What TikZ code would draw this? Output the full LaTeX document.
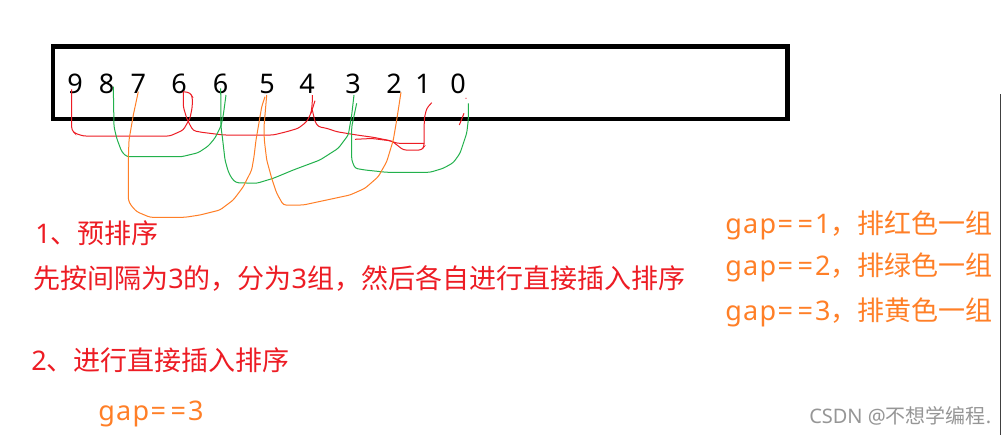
\documentclass[tikz,border=0pt]{standalone}
\usepackage{fontspec}
\setmainfont{Noto Sans}
\newfontfamily\cjk{Noto Sans CJK SC}
\newcommand\gapeq[1]{g\kern1pt a\kern1pt p\kern1pt=\kern3.5pt=\kern1.5pt #1}
\definecolor{pred}{RGB}{237,28,36}
\definecolor{porange}{RGB}{255,127,39}
\definecolor{pgreen}{RGB}{34,177,76}
\definecolor{wmgray}{RGB}{150,150,150}
\tikzset{
  digit/.style={anchor=base,inner sep=0pt,font=\fontsize{20.25pt}{22pt}\selectfont},
  txt/.style={anchor=base west,inner sep=0pt,font=\fontsize{20.25pt}{22pt}\selectfont},
  redtxt/.style={txt,text=pred},
  orangetxt/.style={txt,text=porange},
  wm/.style={anchor=base west,inner sep=0pt,text=wmgray,font=\fontsize{15pt}{17pt}\selectfont},
  rline/.style={draw=pred,line width=0.75pt,rounded corners=2pt},
  gline/.style={draw=pgreen,line width=0.75pt,rounded corners=2pt},
  oline/.style={draw=porange,line width=0.75pt,rounded corners=2pt},
  arraybox/.style={draw=black,line width=3.4pt}
}
\begin{document}
\begin{tikzpicture}[x=0.75pt,y=-0.75pt]
\useasboundingbox (0,0) rectangle (1002,435);
\fill[white] (0,0) rectangle (1002,435);
% array box
\node[arraybox,minimum width=734.5*0.75pt,minimum height=72*0.75pt,anchor=north west,inner sep=0pt] (box) at (50.5,44.5) {};
% digits
\node[digit] (d9) at (75,93.3) {9};
\node[digit] (d8) at (106.7,93.3) {8};
\node[digit] (d7) at (138.3,93.3) {7};
\node[digit] (d6a) at (179,93.3) {6};
\node[digit] (d6b) at (220.7,93.3) {6};
\node[digit] (d5) at (267,93.3) {5};
\node[digit] (d4) at (307,93.3) {4};
\node[digit] (d3) at (353,93.3) {3};
\node[digit] (d2) at (394,93.3) {2};
\node[digit] (d1) at (423,93.3) {1};
\node[digit] (d0) at (458,93.3) {0};
% end points of the hand-drawn links
\coordinate (r9) at (71.7,89.3);
\coordinate (r6) at (183.3,91.7);
\coordinate (r4) at (312.3,95);
\coordinate (r4b) at (312.3,110);
\coordinate (r1) at (431.7,102.7);
\coordinate (g8) at (113.3,86.7);
\coordinate (g6a) at (226,95);
\coordinate (g6b) at (220.7,88.3);
\coordinate (g3a) at (354,95);
\coordinate (g3b) at (356.7,103.3);
\coordinate (g0) at (468.3,103.3);
\coordinate (o7) at (138.3,91.7);
\coordinate (o5a) at (265,96.7);
\coordinate (o5b) at (266.7,95);
\coordinate (o2) at (401,92.3);
% red links
\draw[rline] (r9) -- (71.7,130) -- (75,133.3) -- (83.3,136) -- (170,136) -- (183.3,130) -- (190,118.3) -- (192.3,106.7) -- (192.3,96.7) -- (190,92.7) -- (r6);
\draw[rline] (r6) -- (183.3,106.7) -- (186.7,118.3) -- (190,125) -- (193.3,130.7) -- (201.7,132.3) -- (223.3,135) -- (273.3,135) -- (286.7,131.7) -- (298.3,128.3) -- (306.7,121.7) -- (311,113.3) -- (312.3,103.3) -- (r4);
\draw[rline] (311,113.3) -- (315,100.7);
\draw[rline] (r4b) -- (315,121.7) -- (318.3,126.7) -- (326.7,128.3) -- (336.7,131.7) -- (356.7,135) -- (373.3,137.3) -- (391.7,141) -- (398.3,146) -- (403.3,150) -- (421.7,150) -- (424,146.7) -- (424.3,118.3) -- (426.7,108.3) -- (r1);
\draw[rline] (355,139.3) -- (372,138.5) -- (390,140.7) -- (397,143.3) -- (424,143.3);
\draw[rline] (459.3,125) -- (464,113.3);
\fill[pred] (466,98.3) circle (0.6);
% green links
\draw[gline] (g8) -- (114,126.7) -- (116.7,138.3) -- (121.7,151.7) -- (126.7,156.7) -- (181.7,156.7) -- (198.3,152.7) -- (208.3,146) -- (215,138) -- (221,126) -- (223.3,115) -- (g6a);
\draw[gline] (g6b) -- (221,126.7) -- (222.7,140) -- (225,160) -- (228.3,171.7) -- (231.7,178.3) -- (236,182.7) -- (256.7,183.3) -- (273.3,178.3) -- (293.3,170) -- (320,160) -- (338.3,148.3) -- (348.3,135) -- (351.7,115) -- (g3a);
\draw[gline] (g3b) -- (351.7,126.7) -- (351.7,160) -- (355,168.3) -- (365,170) -- (386.7,172.3) -- (430,172.3) -- (443.3,168.3) -- (453.3,162.7) -- (460,153.3) -- (466.7,133.3) -- (468.3,120) -- (g0);
% orange links
\draw[oline] (o7) -- (133.3,115) -- (129,140) -- (128.3,160) -- (128.3,200) -- (130.7,205) -- (136.7,211.7) -- (150,217.3) -- (185,217.3) -- (200,215) -- (220,210) -- (233.3,200) -- (243.3,186.7) -- (251.7,170) -- (254,156.7) -- (256,140) -- (258.3,126.7) -- (261.7,106.7) -- (o5a);
\draw[oline] (o5b) -- (264,126.7) -- (264.3,140) -- (266.7,160) -- (271.7,178.3) -- (276.7,193.3) -- (283.3,205) -- (303.3,205) -- (326.7,200) -- (350,195) -- (365,188.3) -- (378.3,176.7) -- (386.7,161.7) -- (393.3,140) -- (396.7,120) -- (o2);
% texts
\node[redtxt] (t1) at (35,243.3) {1{\cjk 、预排序}};
\node[redtxt] (t2) at (33,288.3) {{\cjk 先按间隔为}3{\cjk 的，分为}3{\cjk 组，然后各自进行直接插入排序}};
\node[redtxt] (t3) at (31,370) {2{\cjk 、进行直接插入排序}};
\node[orangetxt] (t4) at (98,420) {\gapeq{3}};
\node[orangetxt] (g1) at (725,233.3) {\gapeq{1}{\cjk ，排红色一组}};
\node[orangetxt] (g2) at (725,275.5) {\gapeq{2}{\cjk ，排绿色一组}};
\node[orangetxt] (g3) at (725,320) {\gapeq{3}{\cjk ，排黄色一组}};
\node[wm] (w) at (809,423) {CSDN @{\cjk 不想学编程}.};
% right edge line
\draw[black!75,line width=0.75pt] (1000.5,94) -- (1000.5,435);
\end{tikzpicture}
\end{document}
